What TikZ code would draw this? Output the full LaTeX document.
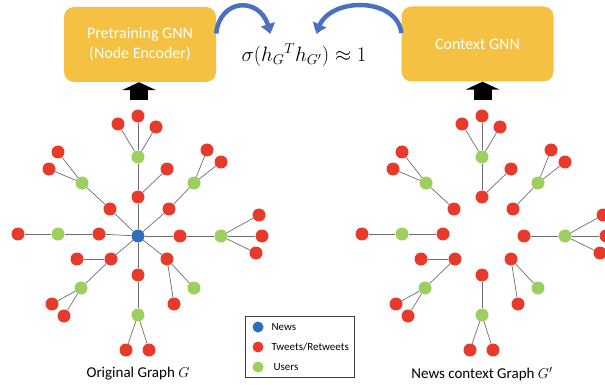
\documentclass[tikz,border=0pt]{standalone}
\usepackage{fontspec}
\setmainfont{Carlito}
\usetikzlibrary{arrows.meta,bending}

\definecolor{boxgold}{HTML}{F4C142}
\definecolor{newsblue}{HTML}{2E6FC0}
\definecolor{tweetred}{HTML}{E83A2A}
\definecolor{usergreen}{HTML}{9CCF5E}
\definecolor{arcblue}{HTML}{4A70C0}
\definecolor{linkgray}{HTML}{6E6E6E}

\begin{document}
\begin{tikzpicture}[x=1pt,y=-1pt,
    gnn/.style={fill=boxgold, rounded corners=10pt, minimum width=152pt,
      minimum height=75pt, text=white, align=center,
      font=\fontsize{16}{20}\selectfont},
    news/.style={circle, fill=newsblue, minimum size=13pt, inner sep=0pt},
    tweet/.style={news, fill=tweetred},
    user/.style={news, fill=usergreen},
    link/.style={draw=linkgray, line width=0.7pt},
    feed/.style={line width=18pt, -{Triangle[width=34pt,length=8pt]}},
    swirl/.style={arcblue, line width=4.5pt, -{Triangle[width=14pt,length=10pt,bend]}},
    caption/.style={font=\fontsize{15}{18}\selectfont},
    key/.style={font=\fontsize{11}{13}\selectfont, anchor=west}]

    \useasboundingbox (0,0) rectangle (605,385);

    % encoders and objective
    \node[gnn] (pre) at (140,44.5) {Pretraining GNN\\(Node Encoder)};
    \node[gnn] (ctx) at (477.5,44) {Context GNN};
    \node[font=\fontsize{22}{26}\selectfont] (sim) at (304,55)
        {$\sigma\Bigl(h_G{}^T h_{G'}\Bigr) \approx 1$};

    \coordinate (inL) at (270,34);
    \coordinate (inR) at (317,34);
    \draw[swirl] ([yshift=11pt]pre.east) .. controls +(4,-38) and +(-4,-38) .. (inL);
    \draw[swirl] ([yshift=11pt]ctx.west) .. controls +(-4,-38) and +(4,-38) .. (inR);

    \coordinate (Lfoot) at (139,100);
    \coordinate (Rfoot) at (482.5,100);
    \draw[feed] (Lfoot) -- (Lfoot |- pre.south);
    \draw[feed] (Rfoot) -- (Rfoot |- ctx.south);

    % the two graphs (the context graph has no news node)
    \foreach \g/\dx in {L/0,R/344}{
      \begin{scope}[xshift=\dx]
        \foreach \n/\x/\y/\k in {t1/99/234/tweet, u1/58/234/user, r1/18/234/tweet,
            t2/110/209/tweet, u2/82/183/user, r2a/58/152/tweet, r2b/49/169/tweet,
            t3/138/197/tweet, r3x/167/169/tweet, u3/138/157/user,
            r3a/118/124/tweet, r3b/138/116/tweet, r3c/156/127/tweet,
            t4/169/209/tweet, u4/194/183/user, r4a/207/150/tweet, r4b/221/162/tweet,
            t5/180/236/tweet, u5/221/236/user,
            r5a/259/215/tweet, r5b/262/236/tweet, r5c/256/253/tweet,
            t6/167/259/tweet, u6/194/288/user, r6/174/304/tweet,
            t7/138/275/tweet, u7/138/315/user, r7a/126/350/tweet, r7b/149/350/tweet,
            t8/111/259/tweet, r8x/77/259/tweet, u8/81/288/user,
            r8a/52/304/tweet, r8b/64/316/tweet}
          \node[\k] (\g\n) at (\x,\y) {};
      \end{scope}
      \foreach \a/\b in {t1/u1, u1/r1, t2/u2, u2/r2a, u2/r2b, t3/u3, t3/r3x,
          u3/r3a, u3/r3b, u3/r3c, t4/u4, u4/r4a, u4/r4b, t5/u5, u5/r5a, u5/r5b,
          u5/r5c, t6/u6, t6/r6, t7/u7, u7/r7a, u7/r7b, t8/r8x, t8/u8, u8/r8a, u8/r8b}
        \draw[link] (\g\a) -- (\g\b);
    }
    \node[news] (Lc) at (138,236) {};
    \foreach \t in {1,...,8}
      \draw[link] (Lc) -- (Lt\t);

    \node[caption] (capL) at (138,374) {Original Graph $G$};
    \node[caption] (capR) at (482,374) {News context Graph $G'$};

    % legend
    \draw[draw=black!75, line width=0.8pt] (245,316) rectangle (354,377);
    \node[news, minimum size=11pt] (kn) at (258,327) {};
    \node[tweet, minimum size=11pt] (kt) at (258,347) {};
    \node[user, minimum size=11pt] (ku) at (258,367) {};
    \node[key] at (268,327) {News};
    \node[key] at (268,347) {Tweets/Retweets};
    \node[key] at (270,367) {Users};
\end{tikzpicture}
\end{document}
